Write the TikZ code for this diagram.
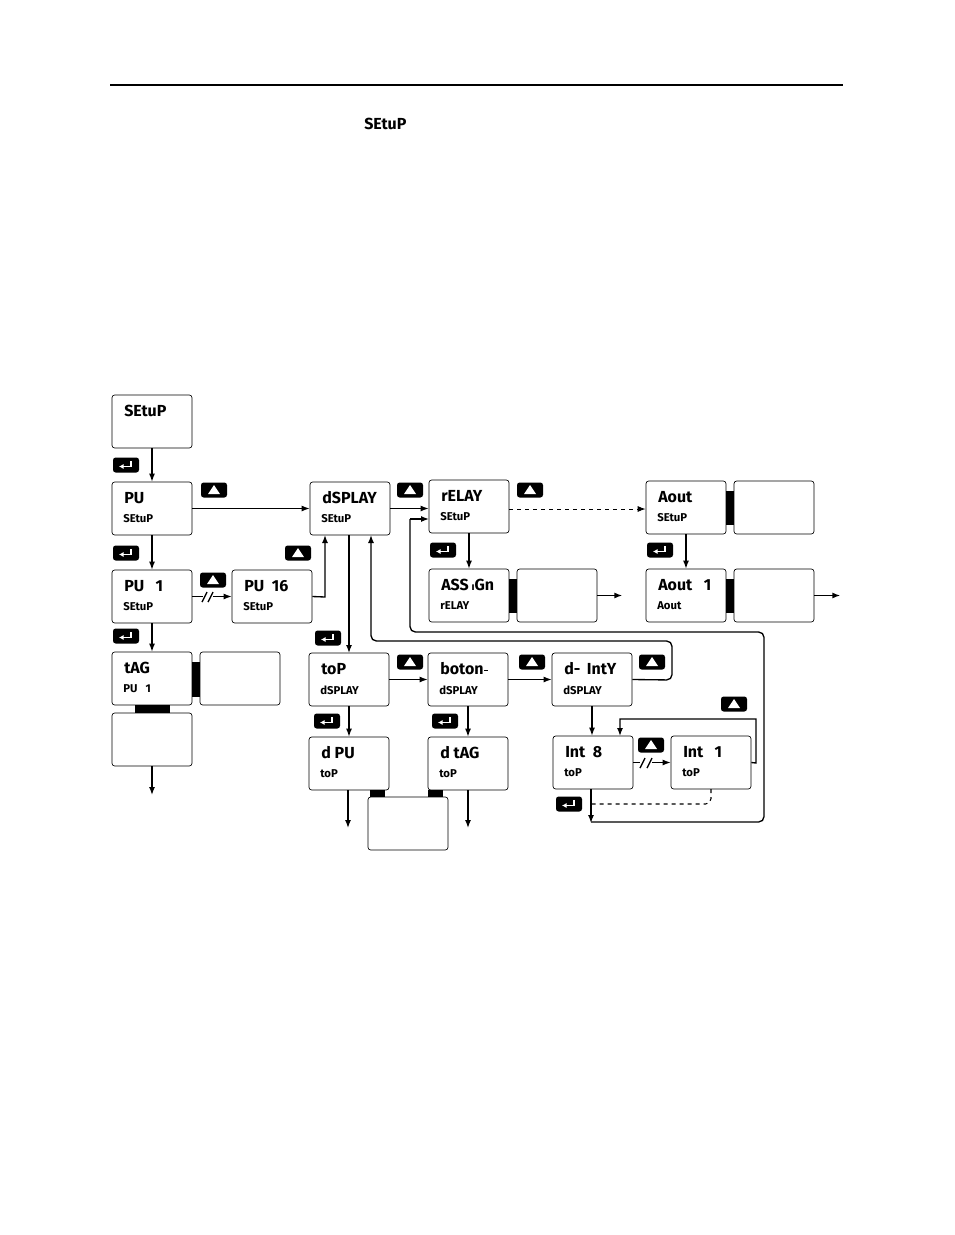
\documentclass[tikz,border=0pt]{standalone}
\usepackage{fontspec}
\setsansfont{Fira Sans}
\usetikzlibrary{arrows.meta}
\begin{document}
\begin{tikzpicture}[x=0.75pt,y=-0.75pt,
  dbox/.style={draw,rounded corners=2pt,line width=0.5pt,minimum width=60pt,minimum height=39.75pt,inner sep=0},
  big/.style={font=\sffamily\bfseries\fontsize{12}{12}\selectfont,anchor=west,inner sep=0},
  small/.style={font=\sffamily\bfseries\fontsize{8.5}{8.5}\selectfont,anchor=west,inner sep=0},
  ln/.style={line width=1pt},
  ar/.style={line width=1pt,-{Latex[length=6pt,width=4.5pt]}},
  bar/.style={fill=black,draw=none},
  btn/.style={fill=black,rounded corners=2pt,draw=none}]
\useasboundingbox (0,0) rectangle (954,1235);
\draw[line width=1pt] (110,85) -- (843,85);
\node[big] (title) at (364,124) {SEtuP};
% button macros
\newcommand\upb[3]{\node[btn,minimum width=19.5pt,minimum height=11.25pt] (#1) at (#2,#3) {};
  \fill[white] ($(#2,#3)+(-6,4)$) -- ($(#2,#3)+(6,4)$) -- ($(#2,#3)+(0,-5)$) -- cycle;}
\newcommand\enb[3]{\node[btn,minimum width=19.5pt,minimum height=11.25pt] (#1) at (#2,#3) {};
  \draw[white,line width=1.2pt,-{Latex[length=3.5pt,width=4pt]}] ($(#2,#3)+(5,-4)$) -- ($(#2,#3)+(5,1.5)$) -- ($(#2,#3)+(-7,1.5)$);}
\newcommand\dbx[6]{\node[dbox] (#1) at (#2+40,#3+26.5) {};
  \node[big] (#1t) at (#2+12,#3+16) {#4};
  \node[small] (#1s) at (#2+11,#3+37) {#5};}
\newcommand\ebx[3]{\node[dbox] (#1) at (#2+40,#3+26.5) {};}
\usetikzlibrary{calc}
% boxes
\dbx{setup}{112}{395}{SEtuP}{}{}
\dbx{pu}{112}{482}{PU}{SEtuP}{}
\dbx{pua}{112}{570}{PU\ \ \ 1}{SEtuP}{}
\dbx{pup}{232}{570}{PU\ \ 16}{SEtuP}{}
\dbx{tag}{112}{652}{tAG}{PU\ \ \ 1}{}
\ebx{tagr}{200}{652}
\ebx{tagb}{112}{713}
\fill (192,662) rectangle (200,697);
\fill (135,705) rectangle (170,713);
\dbx{disp}{310}{482}{dSPLAY}{SEtuP}{}
\dbx{relay}{429}{480}{rELAY}{SEtuP}{}
\dbx{aout}{646}{481}{Aout}{SEtuP}{}
\ebx{aoutr}{734}{481}
\fill (726,491) rectangle (734,525);
\dbx{assign}{429}{569}{ASS\,\raisebox{0pt}{\fontsize{8}{8}\selectfont\i}Gn}{rELAY}{}
\ebx{assignr}{517}{569}
\fill (509,579) rectangle (517,613);
\dbx{aouta}{646}{569}{Aout\ \ \ 1}{Aout}{}
\ebx{aoutar}{734}{569}
\fill (726,579) rectangle (734,613);
\dbx{top}{309}{653}{toP}{dSPLAY}{}
\dbx{boton}{428}{653}{boton\rlap{\kern0.5pt\raisebox{3pt}{\rule{3pt}{1pt}}}}{dSPLAY}{}
\dbx{dint}{552}{653}{d-\ \,IntY}{dSPLAY}{}
\dbx{dpu}{309}{737}{d PU}{toP}{}
\dbx{dtag}{428}{737}{d tAG}{toP}{}
\ebx{mid}{368}{797}
\fill (370,790) rectangle (385,797);
\fill (428,790) rectangle (443,797);
\dbx{inta}{553}{736}{Int\ \ 8}{toP}{}
\dbx{intb}{671}{736}{Int\ \ \ 1}{toP}{}
% buttons
\enb{b1}{126}{465}
\upb{b2}{214}{490}
\enb{b3}{126}{553}
\upb{b4}{213}{580}
\upb{b5}{298}{553}
\enb{b6}{126}{636}
\enb{b7}{328}{638}
\upb{b8}{410}{490}
\upb{b9}{530}{490}
\enb{b10}{443}{550}
\enb{b11}{660}{550}
\upb{b12}{410}{662}
\upb{b13}{532}{662}
\upb{b14}{652}{662}
\enb{b15}{327}{721}
\enb{b16}{445}{721}
\upb{b17}{734}{704}
\upb{b18}{651}{745}
\enb{b19}{569}{804}
% connectors
\draw[ar] (setup.south) -- (pu.north);
\draw[ar] (pu.south) -- (pua.north);
\draw[ar] (pua.south) -- (tag.north);
\draw[ar] (pu.east) -- (disp.west);
\draw[ar] (pua.east) -- (pup.west);
\fill[white] (203,592) rectangle (213,602);
\draw[line width=1pt] (202,602) -- (207,592) (208,602) -- (213,592);
\draw[ar] (pup.east) -- (325,597) -- (325,535);
\draw[ar] (tagb.south) -- (152,795);
\draw[ar] (disp.east) -- (relay.west |- disp.east);
\draw[ar,dashed,line width=0.7pt] (relay.east |- 0,509) -- (aout.west |- 0,509);
\draw[ar] (relay.south) -- (assign.north);
\draw[ar] (aout.south) -- (aouta.north);
\draw[ar] (assignr.east) -- ++(25,0);
\draw[ar] (aoutar.east) -- ++(26,0);
\draw[ar] (349,535) -- (349,653);
\draw[ar] (top.east) -- (boton.west);
\draw[ar] (boton.east) -- (dint.west);
\draw[ar,rounded corners=4pt] (dint.east) -- (672,680) -- (672,641) -- (371,641) -- (371,535);
\draw[ar] (top.south) -- (dpu.north);
\draw[ar] (boton.south) -- (dtag.north);
\draw[ar] (348,790) -- (348,828);
\draw[ar] (468,790) -- (468,828);
\draw[ar] (dint.south) -- (inta.north -| dint.south);
\draw[ar] (inta.east) -- (intb.west);
\fill[white] (640,758) rectangle (652,768);
\draw[line width=1pt] (640,768) -- (645,758) (647,768) -- (652,758);
\draw[ar] (intb.east) -- (756,763) -- (756,719) -- (620,719) -- (620,736);
\draw[ar] (591,789) -- (591,823);
\draw[ln,rounded corners=4pt] (591,822) -- (764,822) -- (764,632) -- (410,632) -- (410,519);
\draw[ar] (410,519) -- (429,519);
\draw[line width=0.8pt,dashed,rounded corners=4pt] (711,789) -- (711,804) -- (591,804);
\end{tikzpicture}
\end{document}
